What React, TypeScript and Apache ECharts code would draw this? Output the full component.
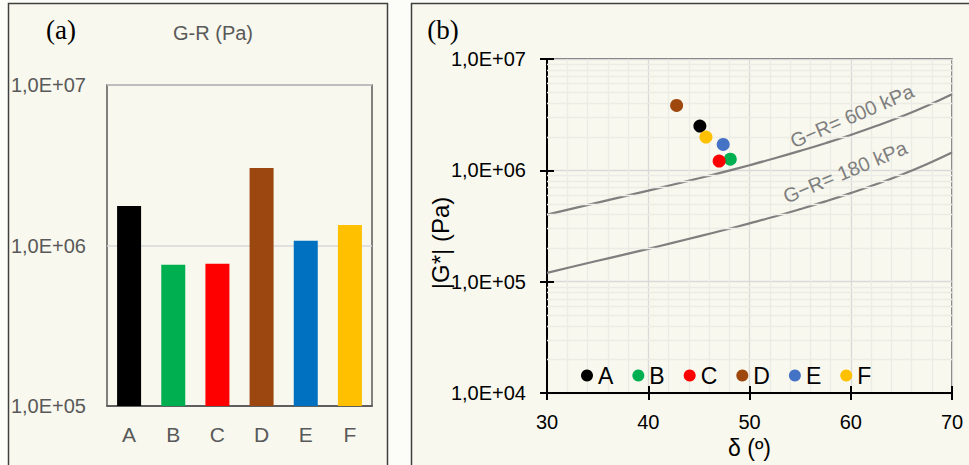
import React, { useEffect, useRef } from 'react';
import * as echarts from 'echarts';

const barCategories = ['A', 'B', 'C', 'D', 'E', 'F'];
const barValues = [1.76e6, 7.6e5, 7.7e5, 3.04e6, 1.07e6, 1.34e6];
const barColors = ['#000000', '#00B050', '#FF0000', '#9C4710', '#0070C0', '#FFC000'];

const pointNames = ['A', 'B', 'C', 'D', 'E', 'F'];
const pointDelta = [45.1, 48.1, 47.0, 42.8, 47.4, 45.7];
const pointModulus = [2.5e6, 1.26e6, 1.21e6, 3.83e6, 1.71e6, 1.99e6];
const pointColors = ['#000000', '#00B050', '#FF0000', '#9E480E', '#4472C4', '#FFC000'];

const curveDelta = [30, 32.5, 35, 37.5, 40, 42.5, 45, 47.5, 50, 52.5, 55, 57.5, 60, 62.5, 65, 67.5, 70];
const curve600 = [400000, 453000, 513000, 580000, 657000, 746000, 848000, 969000, 1112000, 1284000, 1494000, 1753000, 2078000, 2497000, 3045000, 3785000, 4820000];
const curve180 = [120000, 136000, 154000, 174000, 197000, 224000, 255000, 291000, 334000, 385000, 448000, 526000, 624000, 749000, 913000, 1135000, 1446000];

const yMinorLines = [
  2e4, 3e4, 4e4, 5e4, 6e4, 7e4, 8e4, 9e4,
  2e5, 3e5, 4e5, 5e5, 6e5, 7e5, 8e5, 9e5,
  2e6, 3e6, 4e6, 5e6, 6e6, 7e6, 8e6, 9e6,
];

const sans = "'Liberation Sans', Arial, sans-serif";
const serif = "'Liberation Serif', 'Times New Roman', serif";

const sciLabel = (v: number) => {
  const e = Math.round(Math.log10(v));
  return '1,0E+' + String(e).padStart(2, '0');
};

export default function App() {
  const ref = useRef<HTMLDivElement>(null);
  useEffect(() => {
    if (!ref.current) return;
    const chart = echarts.init(ref.current, undefined, { renderer: 'svg' });
    const tickStyle = { color: '#000', width: 2 };
    const option: any = {
      animation: false,
      backgroundColor: '#FCFCF8',
      grid: [
        { left: 107, top: 85, width: 265, height: 321, show: true, borderColor: '#404040', borderWidth: 1.3, backgroundColor: 'transparent' },
        { left: 547, top: 59, width: 405, height: 334, show: true, borderColor: '#404040', borderWidth: 1.3, backgroundColor: 'transparent' },
      ],
      xAxis: [
        {
          gridIndex: 0, type: 'category', data: barCategories,
          axisTick: { show: false },
          axisLine: { lineStyle: { color: '#404040', width: 1.5 } },
          axisLabel: { color: '#595959', fontSize: 21, fontFamily: sans, margin: 18 },
        },
        {
          gridIndex: 1, type: 'value', min: 30, max: 70, interval: 10, position: 'bottom',
          axisLine: { onZero: false, lineStyle: { color: '#000', width: 2 } },
          axisTick: { length: 7, lineStyle: tickStyle },
          axisLabel: { color: '#000', fontSize: 20, fontFamily: sans, margin: 19 },
          splitLine: { show: true, lineStyle: { color: '#D9D9D9', width: 1.3 } },
          minorTick: { show: false, splitNumber: 5 },
          minorSplitLine: { show: true, lineStyle: { color: '#ECECE6', width: 1.3 } },
          name: 'δ (º)', nameLocation: 'middle', nameGap: 43,
          nameTextStyle: { color: '#000', fontSize: 23, fontFamily: sans },
        },
        {
          gridIndex: 1, type: 'value', min: 30, max: 70, interval: 10, position: 'bottom',
          axisLine: { show: false },
          axisTick: { inside: true, length: 7, lineStyle: tickStyle },
          axisLabel: { show: false },
          splitLine: { show: false },
        },
      ],
      yAxis: [
        {
          gridIndex: 0, type: 'log', logBase: 10, min: 1e5, max: 1e7,
          axisLine: { show: false }, axisTick: { show: false },
          axisLabel: { formatter: sciLabel, color: '#595959', fontSize: 20, fontFamily: sans, margin: 21 },
          splitLine: { show: true, lineStyle: { color: '#D9D9D9', width: 1.5 } },
        },
        {
          gridIndex: 1, type: 'log', logBase: 10, min: 1e4, max: 1e7, position: 'left',
          axisLine: { onZero: false, lineStyle: { color: '#000', width: 2 } },
          axisTick: { length: 7, lineStyle: tickStyle },
          axisLabel: { formatter: sciLabel, color: '#000', fontSize: 20, fontFamily: sans, margin: 21 },
          splitLine: { show: true, lineStyle: { color: '#D9D9D9', width: 1.3 } },
        },
        {
          gridIndex: 1, type: 'log', logBase: 10, min: 1e4, max: 1e7, position: 'left',
          axisLine: { show: false },
          axisTick: { inside: true, length: 7, lineStyle: tickStyle },
          axisLabel: { show: false },
          splitLine: { show: false },
        },
      ],
      legend: {
        data: pointNames, left: 581, top: 364, padding: 0, icon: 'circle', itemWidth: 12, itemHeight: 12, itemGap: 19,
        selectedMode: false,
        textStyle: { fontSize: 23, color: '#000', fontFamily: sans },
      },
      series: [
        {
          type: 'bar', xAxisIndex: 0, yAxisIndex: 0, barWidth: 24, silent: true,
          data: barValues.map((v, i) => ({ value: v, itemStyle: { color: barColors[i] } })),
        },
        {
          type: 'line', name: 'minor', xAxisIndex: 1, yAxisIndex: 1, z: 1, silent: true,
          data: [[30, 1e4]], showSymbol: false, symbol: 'none',
          markLine: {
            silent: true, symbol: ['none', 'none'], label: { show: false },
            lineStyle: { color: '#ECECE6', width: 1.3, type: 'solid' },
            emphasis: { disabled: true },
            data: yMinorLines.map((v) => ({ yAxis: v })),
          },
        },
        {
          type: 'line', name: 'GR600', xAxisIndex: 1, yAxisIndex: 1, z: 3, silent: true,
          smooth: true, showSymbol: false, symbol: 'none',
          lineStyle: { color: '#7F7F7F', width: 2.2 },
          data: curveDelta.map((d, i) => [d, curve600[i]]),
        },
        {
          type: 'line', name: 'GR180', xAxisIndex: 1, yAxisIndex: 1, z: 3, silent: true,
          smooth: true, showSymbol: false, symbol: 'none',
          lineStyle: { color: '#7F7F7F', width: 2.2 },
          data: curveDelta.map((d, i) => [d, curve180[i]]),
        },
        ...pointNames.map((n, i) => ({
          type: 'scatter', name: n, xAxisIndex: 1, yAxisIndex: 1, z: 5, silent: true,
          symbolSize: 13, itemStyle: { color: pointColors[i], opacity: 1 },
          data: [[pointDelta[i], pointModulus[i]]],
        })),
      ],
      graphic: [
        { type: 'rect', z: -10, shape: { x: 8.5, y: 3.5, width: 379, height: 470 }, style: { fill: '#F8F8EE', stroke: '#404040', lineWidth: 1.5 } },
        { type: 'rect', z: -10, shape: { x: 411.5, y: 3.5, width: 600, height: 470 }, style: { fill: '#F8F8EE', stroke: '#404040', lineWidth: 1.5 } },
        { type: 'text', z: 100, x: 61, y: 30, style: { text: '(a)', fontSize: 27, fontFamily: serif, fill: '#000', align: 'center', verticalAlign: 'middle' } },
        { type: 'text', z: 100, x: 213, y: 33, style: { text: 'G-R (Pa)', fontSize: 20, fontFamily: sans, fill: '#595959', align: 'center', verticalAlign: 'middle' } },
        { type: 'text', z: 100, x: 443, y: 30, style: { text: '(b)', fontSize: 27, fontFamily: serif, fill: '#000', align: 'center', verticalAlign: 'middle' } },
        { type: 'text', z: 100, x: 440, y: 243, rotation: Math.PI / 2, style: { text: '|G*| (Pa)', fontSize: 24, fontFamily: sans, fill: '#000', align: 'center', verticalAlign: 'middle' } },
        { type: 'text', z: 100, x: 852, y: 116, rotation: 0.407, style: { text: 'G−R= 600 kPa', fontSize: 20, fontFamily: sans, fill: '#7F7F7F', align: 'center', verticalAlign: 'middle' } },
        { type: 'text', z: 100, x: 845, y: 172, rotation: 0.394, style: { text: 'G−R= 180 kPa', fontSize: 20, fontFamily: sans, fill: '#7F7F7F', align: 'center', verticalAlign: 'middle' } },
      ],
    };
    chart.setOption(option);
    return () => chart.dispose();
  }, []);
  return <div ref={ref} style={{ position: 'absolute', left: 0, top: 0, width: 969, height: 465 }} />;
}
